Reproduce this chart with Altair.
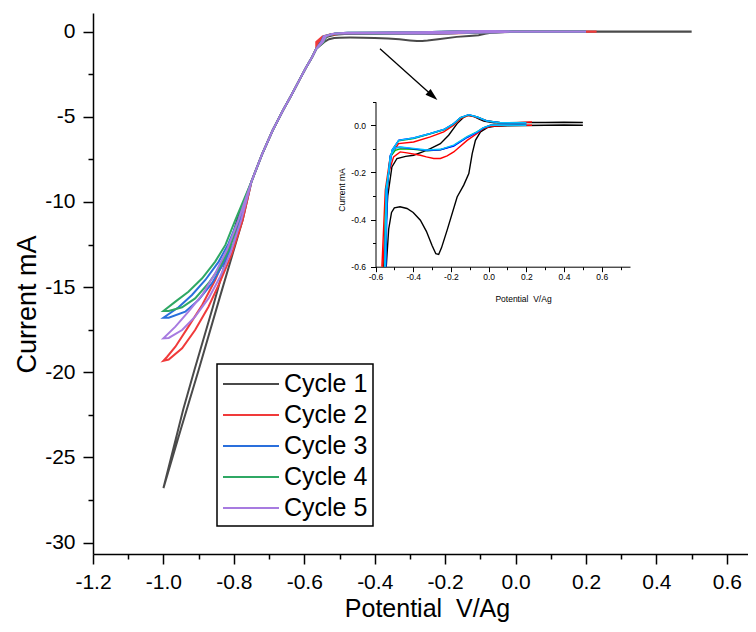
import altair as alt
import pandas as pd

# ---------------- data ----------------
cycles = ["Cycle 1", "Cycle 2", "Cycle 3", "Cycle 4", "Cycle 5"]
main_colors = ["#4a4a4a", "#f03a3a", "#2a6fdc", "#2fa864", "#a77be0"]
inset_colors = ["#000000", "#ff0000", "#00c000", "#0000ff", "#00c0ff"]

main_x_ticks = [-1.2, -1.1, -1.0, -0.9, -0.8, -0.7, -0.6, -0.5, -0.4, -0.3, -0.2,
                -0.1, 0.0, 0.1, 0.2, 0.3, 0.4, 0.5, 0.6]
main_y_ticks = [-30, -27.5, -25, -22.5, -20, -17.5, -15, -12.5, -10, -7.5, -5, -2.5, 0]
inset_x_ticks = [-0.6, -0.5, -0.4, -0.3, -0.2, -0.1, 0.0, 0.1, 0.2, 0.3, 0.4, 0.5, 0.6, 0.7]
inset_y_ticks = [-0.6, -0.5, -0.4, -0.3, -0.2, -0.1, 0.0, 0.1]

# steep common part of all sweeps (potential V, current mA)
trunk_E = [-0.566, -0.578, -0.595, -0.613, -0.636, -0.66, -0.69, -0.72, -0.75]
trunk_I = [-1.0, -1.5, -2.1, -2.8, -3.7, -4.6, -5.8, -7.2, -8.8]

# Cycle 1
c1_hc_E = [0.50, 0.40, 0.30, 0.20, 0.10, 0.03, -0.007, -0.043, -0.07, -0.087, -0.105, -0.132,
           -0.167, -0.22, -0.25, -0.265, -0.28, -0.30, -0.33, -0.362, -0.40, -0.433, -0.47,
           -0.50, -0.515, -0.53, -0.543]
c1_hc_I = [0.000, 0.001, 0.000, -0.001, -0.002, -0.004, -0.010, -0.028, -0.064, -0.120, -0.205,
           -0.254, -0.304, -0.445, -0.52, -0.548, -0.545, -0.51, -0.45, -0.403, -0.37, -0.353,
           -0.346, -0.35, -0.37, -0.44, -0.60]
c1_lc_E = [-0.775, -0.84, -0.90, -0.95, -1.0]
c1_lc_I = [-11.06, -15.6, -19.87, -23.3, -26.8]
c1_la_E = [-1.0, -0.944, -0.912, -0.86, -0.791]
c1_la_I = [-26.8, -22.2, -19.87, -16.2, -11.06]
c1_ha_E = [-0.557, -0.535, -0.513, -0.486, -0.44, -0.398, -0.35, -0.309, -0.256, -0.212, -0.167,
           -0.135, -0.114, -0.079, -0.05, -0.026, 0.028, 0.10, 0.20, 0.30, 0.40, 0.50]
c1_ha_I = [-0.60, -0.30, -0.177, -0.141, -0.132, -0.127, -0.113, -0.099, -0.078, -0.042, 0.007,
           0.032, 0.042, 0.038, 0.026, 0.018, 0.010, 0.011, 0.012, 0.012, 0.013, 0.012]

# Cycle 2
c2_hc_E = [0.23, 0.20, 0.17, 0.10, 0.01, -0.03, -0.061, -0.114, -0.185, -0.22, -0.256, -0.291,
           -0.33, -0.362, -0.433, -0.469, -0.504, -0.531, -0.548, -0.561]
c2_hc_I = [0.000, 0.000, 0.003, 0.000, -0.004, -0.015, -0.035, -0.064, -0.113, -0.13, -0.141,
           -0.141, -0.134, -0.127, -0.117, -0.113, -0.134, -0.205, -0.417, -0.60]
c2_lc_E = [-0.775, -0.805, -0.839, -0.872, -0.91, -0.947, -0.985, -1.0]
c2_lc_I = [-11.06, -13.01, -14.68, -16.15, -17.52, -18.59, -19.25, -19.32]
c2_la_E = [-1.0, -0.99, -0.966, -0.929, -0.89, -0.853, -0.82, -0.782]
c2_la_I = [-19.32, -19.1, -18.5, -17.32, -16.05, -14.58, -13.01, -11.06]
c2_ha_E = [-0.566, -0.548, -0.522, -0.478, -0.398, -0.309, -0.238, -0.185, -0.149, -0.105,
           -0.061, -0.007, 0.063, 0.15, 0.23]
c2_ha_I = [-0.60, -0.275, -0.134, -0.078, -0.071, -0.049, -0.028, 0.000, 0.028, 0.042, 0.033,
           0.018, 0.011, 0.011, 0.014]

# Cycle 3
c3_hc_E = [0.20, 0.10, 0.01, -0.03, -0.061, -0.114, -0.185, -0.256, -0.327, -0.398, -0.469,
           -0.495, -0.522, -0.539, -0.548]
c3_hc_I = [0.000, 0.000, 0.000, -0.012, -0.028, -0.049, -0.086, -0.104, -0.108, -0.102, -0.100,
           -0.106, -0.134, -0.275, -0.60]
c3_lc_E = [-0.782, -0.801, -0.829, -0.862, -0.90, -0.938, -0.985, -1.0]
c3_lc_I = [-11.06, -12.43, -13.6, -14.77, -15.75, -16.44, -16.8, -16.8]
c3_la_E = [-1.0, -0.957, -0.919, -0.881, -0.843, -0.815, -0.788]
c3_la_I = [-16.8, -16.18, -15.46, -14.58, -13.5, -12.43, -11.06]
c3_ha_E = [-0.552, -0.545, -0.513, -0.478, -0.398, -0.309, -0.238, -0.185, -0.149, -0.105,
           -0.061, -0.007, 0.063, 0.13, 0.20]
c3_ha_I = [-0.60, -0.275, -0.108, -0.066, -0.056, -0.036, -0.019, 0.006, 0.032, 0.044, 0.035,
           0.018, 0.011, 0.011, 0.011]

# Cycle 4
c4_hc_E = [0.20, 0.10, 0.01, -0.03, -0.061, -0.114, -0.185, -0.256, -0.327, -0.398, -0.469,
           -0.495, -0.522, -0.537, -0.545]
c4_hc_I = [0.000, 0.000, 0.000, -0.012, -0.030, -0.052, -0.088, -0.104, -0.107, -0.100, -0.093,
           -0.095, -0.128, -0.26, -0.60]
c4_lc_E = [-0.787, -0.81, -0.839, -0.872, -0.91, -0.947, -0.985, -1.0]
c4_lc_I = [-11.06, -12.62, -13.8, -14.77, -15.66, -16.18, -16.4, -16.4]
c4_la_E = [-1.0, -0.966, -0.929, -0.89, -0.853, -0.824, -0.796]
c4_la_I = [-16.4, -15.85, -15.27, -14.48, -13.5, -12.52, -11.06]
c4_ha_E = [-0.550, -0.543, -0.511, -0.476, -0.398, -0.309, -0.238, -0.185, -0.149, -0.105,
           -0.061, -0.007, 0.063, 0.13, 0.20]
c4_ha_I = [-0.60, -0.27, -0.104, -0.063, -0.054, -0.035, -0.018, 0.007, 0.033, 0.045, 0.035,
           0.018, 0.011, 0.011, 0.011]

# Cycle 5
c5_hc_E = [0.20, 0.10, 0.01, -0.03, -0.061, -0.114, -0.185, -0.256, -0.327, -0.398, -0.469,
           -0.495, -0.522, -0.539, -0.547]
c5_hc_I = [0.000, 0.000, 0.000, -0.011, -0.028, -0.048, -0.084, -0.102, -0.105, -0.098, -0.092,
           -0.096, -0.130, -0.27, -0.60]
c5_lc_E = [-0.779, -0.81, -0.839, -0.872, -0.91, -0.947, -0.985, -1.0]
c5_lc_I = [-11.06, -13.01, -14.39, -15.66, -16.73, -17.52, -17.98, -18.0]
c5_la_E = [-1.0, -0.966, -0.929, -0.89, -0.853, -0.82, -0.787]
c5_la_I = [-18.0, -17.32, -16.44, -15.46, -14.19, -12.82, -11.06]
c5_ha_E = [-0.551, -0.544, -0.512, -0.477, -0.398, -0.309, -0.238, -0.185, -0.149, -0.105,
           -0.061, -0.007, 0.063, 0.13, 0.20]
c5_ha_I = [-0.60, -0.272, -0.105, -0.064, -0.054, -0.035, -0.018, 0.007, 0.033, 0.045, 0.035,
           0.018, 0.011, 0.011, 0.011]

# arrow annotation (data coordinates of the main plot)
arrow_E = [-0.385, -0.236]
arrow_I = [-1.0, -3.76]
arrow_head_E = [-0.236]
arrow_head_I = [-3.76]

# ---------------- build table ----------------
parts = {
    "Cycle 1": (c1_hc_E, c1_hc_I, c1_lc_E, c1_lc_I, c1_la_E, c1_la_I, c1_ha_E, c1_ha_I),
    "Cycle 2": (c2_hc_E, c2_hc_I, c2_lc_E, c2_lc_I, c2_la_E, c2_la_I, c2_ha_E, c2_ha_I),
    "Cycle 3": (c3_hc_E, c3_hc_I, c3_lc_E, c3_lc_I, c3_la_E, c3_la_I, c3_ha_E, c3_ha_I),
    "Cycle 4": (c4_hc_E, c4_hc_I, c4_lc_E, c4_lc_I, c4_la_E, c4_la_I, c4_ha_E, c4_ha_I),
    "Cycle 5": (c5_hc_E, c5_hc_I, c5_lc_E, c5_lc_I, c5_la_E, c5_la_I, c5_ha_E, c5_ha_I),
}
rows = []
for cyc in cycles:
    hcE, hcI, lcE, lcI, laE, laI, haE, haI = parts[cyc]
    cath_E = hcE + trunk_E + lcE
    cath_I = hcI + trunk_I + lcI
    anod_E = laE + trunk_E[::-1] + haE
    anod_I = laI + trunk_I[::-1] + haI
    k = 0
    for e, i in zip(cath_E, cath_I):
        rows.append({"cycle": cyc, "branch": cyc + "c", "idx": k, "E": e, "I": i})
        k += 1
    for e, i in zip(anod_E, anod_I):
        rows.append({"cycle": cyc, "branch": cyc + "a", "idx": k, "E": e, "I": i})
        k += 1
df = pd.DataFrame(rows)
arrow_df = pd.DataFrame({"E": arrow_E, "I": arrow_I})
head_df = pd.DataFrame({"E": arrow_head_E, "I": arrow_head_I})

# ---------------- scales / axes ----------------
FONT = "Liberation Sans"
W, H = 655, 541
xs_main = alt.Scale(domain=[-1.2, 0.66], nice=False, zero=False)
ys_main = alt.Scale(domain=[-30.67, 1.098], nice=False, zero=False)
xs_in = alt.Scale(domain=[-0.6, 0.75], range=[282.5, 537], nice=False, zero=False)
ys_in = alt.Scale(domain=[-0.6, 0.1], range=[253.7, 88.7], nice=False, zero=False)

minor_x = "round(datum.value*10) % 2 != 0"
minor_y = "round(datum.value*2) % 2 != 0"
fix_minus = "replace(datum.label, '\u2212', '-')"

main_x_axis = alt.Axis(
    values=main_x_ticks, format=".1f", orient="bottom",
    labelExpr=f"{minor_x} ? '' : {fix_minus}",
    tickSize={"condition": {"test": minor_x, "value": 5}, "value": 10},
    labelFont=FONT, labelFontSize=21, labelColor="black", labelPadding=7,
    labelFlush=False, labelOverlap=False, labelBound=False,
    domainColor="black", domainWidth=1.5, tickColor="black", tickWidth=1.5,
    title="Potential\u00a0 V/Ag", titleFont=FONT, titleFontSize=25, titleFontWeight="normal",
    titleColor="black", titleX=334, titleY=42, titleBaseline="top", grid=False,
)
main_y_axis = alt.Axis(
    values=main_y_ticks, format=".0f", orient="left",
    labelExpr=f"{minor_y} ? '' : {fix_minus}",
    tickSize={"condition": {"test": minor_y, "value": 5}, "value": 10},
    labelFont=FONT, labelFontSize=21, labelColor="black", labelPadding=8,
    labelOverlap=False, labelBound=False, labelFlush=False,
    domainColor="black", domainWidth=1.5, tickColor="black", tickWidth=1.5,
    title="Current mA", titleFont=FONT, titleFontSize=27, titleFontWeight="normal",
    titleColor="black", titleX=-66, titleY=291, titleBaseline="middle", grid=False,
)
inset_x_axis = alt.Axis(
    values=inset_x_ticks, format=".1f", orient="bottom", offset=-287.3,
    labelExpr=f"{minor_x} ? '' : {fix_minus}",
    tickSize={"condition": {"test": minor_x, "value": 3}, "value": 5},
    labelFont=FONT, labelFontSize=8.5, labelColor="black", labelPadding=1,
    labelFlush=False, labelOverlap=False, labelBound=False,
    domainColor="black", domainWidth=1, tickColor="black", tickWidth=1,
    title="Potential\u00a0 V/Ag", titleFont=FONT, titleFontSize=8.5, titleFontWeight="normal",
    titleColor="black", titleX=430, titleY=28, titleBaseline="top", grid=False,
)
inset_y_axis = alt.Axis(
    values=inset_y_ticks, format=".1f", orient="left", offset=-282.5,
    labelExpr=f"{minor_x} ? '' : {fix_minus}",
    tickSize={"condition": {"test": minor_x, "value": 3}, "value": 5},
    labelFont=FONT, labelFontSize=8.5, labelColor="black", labelPadding=5,
    labelOverlap=False, labelBound=False, labelFlush=False,
    domainColor="black", domainWidth=1, tickColor="black", tickWidth=1,
    title="Current mA", titleFont=FONT, titleFontSize=8.5, titleFontWeight="normal",
    titleColor="black", titleX=-34, titleY=176.5, titleBaseline="middle", grid=False,
)

# legend symbol: a long horizontal stroke (custom path, 2*sqrt(size) long)
legend = alt.Legend(
    orient="none", legendX=124, legendY=351, title=None,
    symbolType="M-2,0L2,0", symbolSize=784, symbolStrokeWidth=2, symbolOffset=14,
    labelFont=FONT, labelFontSize=25, labelColor="black", labelOffset=18,
    padding=5, rowPadding=3, strokeColor="black", fillColor="white",
)

main = alt.Chart(df).mark_line(strokeWidth=2).encode(
    x=alt.X("E:Q", scale=xs_main, axis=main_x_axis),
    y=alt.Y("I:Q", scale=ys_main, axis=main_y_axis),
    color=alt.Color("cycle:N", scale=alt.Scale(domain=cycles, range=main_colors), legend=legend),
    detail="cycle:N",
    order="idx:Q",
)

arrow_line = alt.Chart(arrow_df).mark_line(color="black", strokeWidth=1.3).encode(
    x=alt.X("E:Q", scale=xs_main, axis=None),
    y=alt.Y("I:Q", scale=ys_main, axis=None),
)
arrow_head = alt.Chart(head_df).mark_point(
    shape="M0,-1L0.6,0.9L-0.6,0.9Z", filled=True, color="black", size=170, angle=131, opacity=1
).encode(
    x=alt.X("E:Q", scale=xs_main, axis=None),
    y=alt.Y("I:Q", scale=ys_main, axis=None),
)

inset = alt.Chart(df).transform_filter(
    "datum.I >= -0.6 && datum.E >= -0.6"
).mark_line(strokeWidth=1.4).encode(
    x=alt.X("E:Q", scale=xs_in, axis=inset_x_axis),
    y=alt.Y("I:Q", scale=ys_in, axis=inset_y_axis),
    color=alt.Color("cycle:N", scale=alt.Scale(domain=cycles, range=inset_colors), legend=None),
    detail="branch:N",
    order="idx:Q",
)

chart = alt.layer(main, arrow_line, arrow_head, inset).resolve_scale(
    x="independent", y="independent", color="independent"
).properties(
    width=W, height=H,
    autosize=alt.AutoSizeParams(type="none"),
    padding={"left": 85, "top": 5, "right": 0, "bottom": 70},
    background="white",
).configure_view(stroke=None).configure_legend(strokeWidth=1.5)

chart.save("out.html", embed_options={"renderer": "svg", "actions": False})
